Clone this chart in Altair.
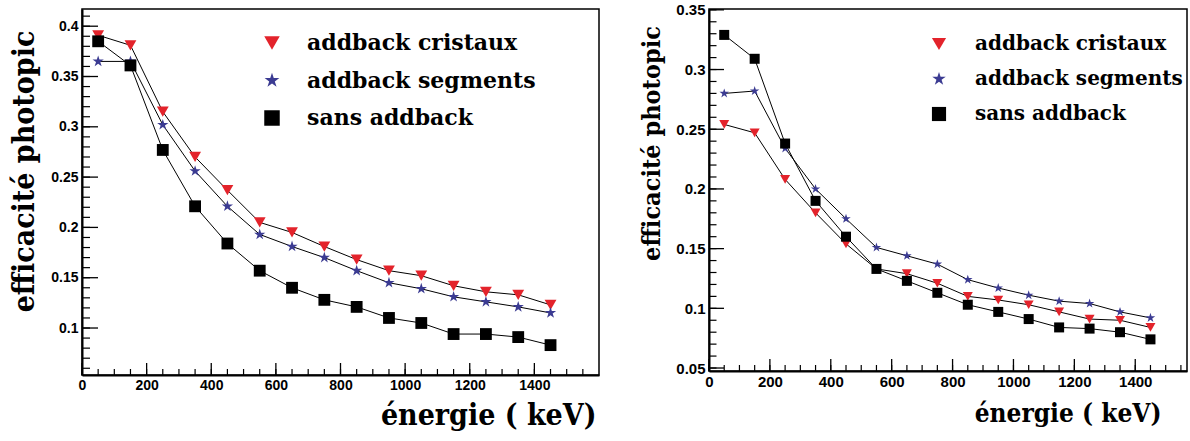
import altair as alt
import pandas as pd

# ---------------- data ----------------
energy = [50, 150, 250, 350, 450, 550, 650, 750, 850, 950, 1050, 1150, 1250, 1350, 1450]
series_names = ["addback cristaux", "addback segments", "sans addback"]

left_cristaux = [0.391, 0.381, 0.315, 0.270, 0.237, 0.205, 0.195, 0.181, 0.168, 0.157, 0.152, 0.142, 0.136, 0.133, 0.123]
left_segments = [0.365, 0.365, 0.302, 0.256, 0.221, 0.193, 0.181, 0.170, 0.157, 0.145, 0.139, 0.131, 0.126, 0.121, 0.115]
left_sans = [0.385, 0.361, 0.277, 0.221, 0.184, 0.157, 0.140, 0.128, 0.121, 0.110, 0.105, 0.094, 0.094, 0.091, 0.083]

right_cristaux = [0.254, 0.247, 0.208, 0.180, 0.154, 0.133, 0.129, 0.121, 0.110, 0.107, 0.103, 0.097, 0.091, 0.090, 0.084]
right_segments = [0.280, 0.282, 0.234, 0.200, 0.175, 0.151, 0.144, 0.137, 0.124, 0.117, 0.111, 0.106, 0.104, 0.097, 0.092]
right_sans = [0.329, 0.309, 0.238, 0.190, 0.160, 0.133, 0.123, 0.113, 0.103, 0.097, 0.091, 0.084, 0.083, 0.080, 0.074]

left_y_major = [0.1, 0.15, 0.2, 0.25, 0.3, 0.35, 0.4]
right_y_major = [0.05, 0.1, 0.15, 0.2, 0.25, 0.3, 0.35]
x_major = [0, 200, 400, 600, 800, 1000, 1200, 1400]

left_y_minor = [round(0.06 + 0.01 * i, 3) for i in range(36)]
right_y_minor = [round(0.05 + 0.01 * i, 3) for i in range(31)]
left_x_minor = [50 * i for i in range(32)]
right_x_minor = [50 * i for i in range(32)]

SANS = "Liberation Sans"
TITLE_FONT = "DejaVu Serif Condensed"
LEGEND_FONT = "DejaVu Serif"

STAR = ("M0,-1L0.2245,-0.309L0.951,-0.309L0.363,0.118L0.588,0.809L0,0.382"
        "L-0.588,0.809L-0.363,0.118L-0.951,-0.309L-0.2245,-0.309Z")
COLORS = ["#e3232b", "#3b3b92", "#000000"]
SHAPES = ["triangle-down", STAR, "square"]


def panel(cr, seg, sans, xdom, ydom, w, h, ymaj, ymin_, xmin_, opts):
    rows = []
    for name, vals in zip(series_names, [cr, seg, sans]):
        for e, v in zip(energy, vals):
            rows.append({"energie": e, "eff": v, "serie": name})
    df = pd.DataFrame(rows)

    xs = alt.Scale(domain=xdom, nice=False, zero=False)
    ys = alt.Scale(domain=ydom, nice=False, zero=False)

    x_axis = alt.Axis(
        values=x_major, format="d", title="énergie ( keV)", ticks=False, grid=False,
        domainColor="black", domainWidth=2,
        labelFont=SANS, labelFontWeight="bold",
        labelFontSize=opts["tick_fs"], labelColor="black", labelPadding=3,
        labelFlush=False,
        titleFont=TITLE_FONT, titleFontWeight="bold",
        titleFontSize=opts["xt_fs"], titleColor="black",
        titleAlign="right", titleBaseline="alphabetic",
        titleX=opts["xt_x"], titleY=opts["xt_y"],
    )
    y_axis = alt.Axis(
        values=ymaj, format="~g", title="efficacité photopic", ticks=False, grid=False,
        domainColor="black", domainWidth=2,
        labelFont=SANS, labelFontWeight="bold",
        labelFontSize=opts["tick_fs"], labelColor="black", labelPadding=4,
        labelFlush=False,
        titleFont=TITLE_FONT, titleFontWeight="bold",
        titleFontSize=opts["yt_fs"], titleColor="black",
        titleAngle=270, titleAlign="center", titleBaseline="alphabetic",
        titleX=opts["yt_x"], titleY=opts["yt_y"],
    )

    lines = alt.Chart(df).mark_line(color="black", strokeWidth=1).encode(
        x=alt.X("energie:Q", scale=xs, axis=x_axis),
        y=alt.Y("eff:Q", scale=ys, axis=y_axis),
        detail="serie:N",
    )

    legend = alt.Legend(
        orient="none", legendX=opts["lg_x"], legendY=opts["lg_y"], title=None,
        labelFont=LEGEND_FONT, labelFontWeight="bold",
        labelFontSize=opts["lg_fs"], labelColor="black",
        symbolSize=opts["lg_sym"], symbolStrokeWidth=0, symbolOpacity=1,
        labelOffset=opts["lg_off"], rowPadding=opts["lg_row"], padding=0,
        labelLimit=400,
    )
    pts = alt.Chart(df).mark_point(filled=True, opacity=1, size=opts["pt"]).encode(
        x=alt.X("energie:Q", scale=xs),
        y=alt.Y("eff:Q", scale=ys),
        color=alt.Color("serie:N", scale=alt.Scale(domain=series_names, range=COLORS), legend=legend),
        shape=alt.Shape("serie:N", scale=alt.Scale(domain=series_names, range=SHAPES), legend=legend),
    )

    ymaj_df = pd.DataFrame({"v": ymaj})
    ymin_df = pd.DataFrame({"v": ymin_})
    xmaj_df = pd.DataFrame({"v": x_major})
    xmin_df = pd.DataFrame({"v": xmin_})

    ytm = alt.Chart(ymaj_df).mark_rule(color="black", strokeWidth=1.3).encode(
        y=alt.Y("v:Q", scale=ys), x=alt.value(0), x2=alt.value(opts["ymaj_len"]))
    ytn = alt.Chart(ymin_df).mark_rule(color="black", strokeWidth=1.2).encode(
        y=alt.Y("v:Q", scale=ys), x=alt.value(0), x2=alt.value(opts["ymaj_len"] / 2))
    xtm = alt.Chart(xmaj_df).mark_rule(color="black", strokeWidth=1.3).encode(
        x=alt.X("v:Q", scale=xs), y=alt.value(h), y2=alt.value(h - 12))
    xtn = alt.Chart(xmin_df).mark_rule(color="black", strokeWidth=1.2).encode(
        x=alt.X("v:Q", scale=xs), y=alt.value(h), y2=alt.value(h - 6))

    return alt.layer(lines, ytn, ytm, xtn, xtm, pts).properties(width=w, height=h)


left = panel(
    left_cristaux, left_segments, left_sans,
    [0, 1600], [0.0533, 0.4171], 517, 366,
    left_y_major, left_y_minor, left_x_minor,
    dict(tick_fs=14, xt_fs=30, xt_x=514, xt_y=49, yt_fs=30, yt_x=-49, yt_y=162,
         lg_x=179, lg_y=23, lg_fs=22, lg_sym=240, lg_off=24, lg_row=15.5, pt=140,
         ymaj_len=16),
)
right = panel(
    right_cristaux, right_segments, right_sans,
    [0, 1570], [0.0475, 0.3507], 478, 362,
    right_y_major, right_y_minor, right_x_minor,
    dict(tick_fs=15, xt_fs=26, xt_x=452, xt_y=50, yt_fs=25, yt_x=-50, yt_y=134,
         lg_x=220, lg_y=25, lg_fs=20, lg_sym=200, lg_off=26, lg_row=15, pt=100,
         ymaj_len=15),
)

chart = alt.hconcat(left, right, spacing=110, bounds="flush").resolve_scale(
    color="independent", shape="independent", x="independent", y="independent"
).resolve_legend(color="independent", shape="independent").configure_view(
    stroke="black", strokeWidth=1.5
).properties(
    padding={"left": 8, "top": 2, "right": 0, "bottom": 0},
    background="white",
)

chart.save("out.html", embed_options={"renderer": "svg", "actions": False})
